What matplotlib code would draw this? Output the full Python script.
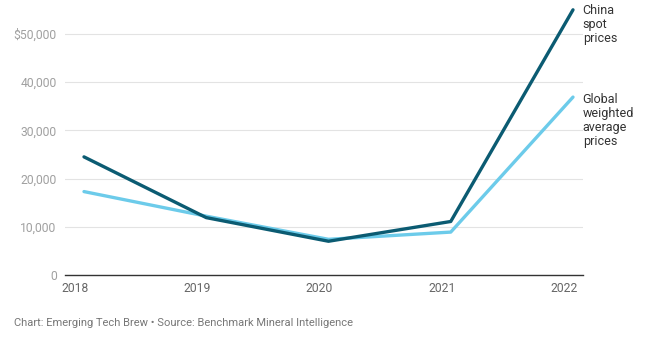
import matplotlib.pyplot as plt
from matplotlib.transforms import ScaledTranslation

plt.rcParams["font.family"] = ["Roboto", "DejaVu Sans"]

years = [2018, 2019, 2020, 2021, 2022]
china_spot = [24500, 11900, 7000, 11100, 55000]
global_avg = [17300, 12200, 7400, 8900, 36900]
yticks = [0, 10000, 20000, 30000, 40000, 50000]
ytick_labels = ["0", "10,000", "20,000", "30,000", "40,000", "$50,000"]

fig = plt.figure(figsize=(6.5, 3.43), dpi=100)
ax = fig.add_axes([65 / 650, 1 - 275 / 343, (583 - 65) / 650, (275 - 5) / 343])

ax.plot(years, global_avg, color="#6ccbea", lw=2.4, solid_capstyle="round", zorder=3)
ax.plot(years, china_spot, color="#0b5b72", lw=2.4, solid_capstyle="round", zorder=4)

ax.set_xlim(2018 - 19 / 122.25, 2022 + 10 / 122.25)
ax.set_ylim(0, 56000)
ax.set_yticks(yticks)
ax.set_yticklabels(ytick_labels)
ax.set_xticks(years)
ax.set_xticklabels([str(y) for y in years])
ax.grid(axis="y", color="#e3e3e3", lw=0.8)
ax.set_axisbelow(True)
for s in ["top", "right", "left"]:
    ax.spines[s].set_visible(False)
ax.spines["bottom"].set_color("#333333")
ax.spines["bottom"].set_linewidth(1)
ax.tick_params(axis="y", length=0, labelsize=8.7, labelcolor="#a0a0a0", pad=6)
ax.tick_params(axis="x", length=0, labelsize=8.7, labelcolor="#666666", pad=5)

# labels in the reference sit a bit left of the points
shift = ScaledTranslation(-9 / 100, 0, fig.dpi_scale_trans)
for lbl in ax.get_xticklabels():
    lbl.set_transform(lbl.get_transform() + shift)

ax.annotate("China\nspot\nprices", xy=(years[-1], china_spot[-1]), xytext=(7, 4),
            textcoords="offset points", fontsize=9, color="#333333",
            va="top", ha="left", linespacing=1.1, annotation_clip=False)
ax.annotate("Global\nweighted\naverage\nprices", xy=(years[-1], global_avg[-1]), xytext=(7, 3),
            textcoords="offset points", fontsize=9, color="#333333",
            va="top", ha="left", linespacing=1.1, annotation_clip=False)

fig.text(14 / 650, 1 - 323 / 343, "Chart: Emerging Tech Brew \u2022 Source: Benchmark Mineral Intelligence",
         fontsize=8, color="#777777", va="center", ha="left")

fig.savefig("out.png", dpi=100)
